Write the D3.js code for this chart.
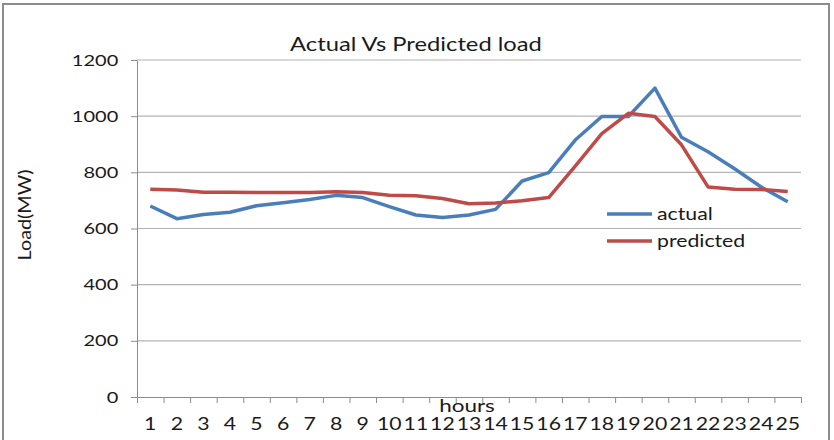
<!DOCTYPE html>
<html>
<head>
<meta charset="utf-8">
<script src="https://cdn.jsdelivr.net/npm/d3@7"></script>
<style>
  body { margin: 0; background: #fff; }
  text { font-family: Lato, "Open Sans", sans-serif; fill: #1a1a1a; }
</style>
</head>
<body>
<div id="chart"></div>
<script>
// hour categories and loads
const hours = ["1","2","3","4","5","6","7","8","9","10","11","12","13",
               "14","15","16","17","18","19","20","21","22","23","24","25"];
const actual = [680, 635, 650, 658, 681, 692, 703, 718, 710, 678, 648, 639, 648,
                668, 769, 799, 915, 999, 999, 1100, 925, 873, 813, 748, 695];
const predicted = [740, 737, 729, 729, 728, 728, 728, 731, 728, 718, 717, 707, 688,
                   691, 699, 710, 822, 938, 1010, 999, 898, 748, 740, 739, 732];
const yTicks = [0, 200, 400, 600, 800, 1000, 1200];
const seriesNames = ["actual", "predicted"];
const seriesColors = ["#4a7ebb", "#be4b48"];

// the picture is a bit stretched sideways, so text gets stretched too
const stretch = 1.25;

const W = 834, H = 440;
const margin = { top: 60, right: 33, bottom: 43, left: 137 };

const svg = d3.select("#chart")
    .append("svg")
    .attr("width", W)
    .attr("height", H);

// outer frame
svg.append("rect")
    .attr("x", 3)
    .attr("y", 4)
    .attr("width", 826)
    .attr("height", H)
    .attr("fill", "#fff")
    .attr("stroke", "#8c8c8c")
    .attr("stroke-width", 2);

const xScale = d3.scaleBand()
    .domain(hours)
    .range([margin.left, W - margin.right]);

const xEdge = d3.scaleLinear()
    .domain([0, hours.length])
    .range([margin.left, W - margin.right]);

const yScale = d3.scaleLinear()
    .domain([0, 1200])
    .range([H - margin.bottom, margin.top]);

// horizontal gridlines
svg.append("g")
    .selectAll("line")
    .data(yTicks.slice(1))
    .enter()
    .append("line")
    .attr("x1", margin.left)
    .attr("x2", W - margin.right)
    .attr("y1", d => yScale(d))
    .attr("y2", d => yScale(d))
    .attr("stroke", "#b4b4b4")
    .attr("stroke-width", 1.2);

// y axis
const yAxis = svg.append("g")
    .attr("transform", `translate(${margin.left},0)`)
    .call(d3.axisLeft(yScale).tickValues(yTicks).tickFormat(d3.format("d"))
        .tickSize(6).tickSizeOuter(0));
yAxis.select(".domain").attr("stroke", "#8c8c8c");
yAxis.selectAll(".tick line").attr("stroke", "#8c8c8c");
yAxis.selectAll(".tick text")
    .attr("x", -15)
    .attr("transform", `scale(${stretch},1)`)
    .style("font-size", "16px")
    .style("font-family", "Lato");

// x axis: ticks sit between the categories
const xTicks = svg.append("g")
    .attr("transform", `translate(0,${H - margin.bottom})`)
    .call(d3.axisBottom(xEdge).tickValues(d3.range(hours.length + 1)).tickSize(6).tickFormat(""));
xTicks.select(".domain").attr("stroke", "#8c8c8c");
xTicks.selectAll(".tick line").attr("stroke", "#8c8c8c");

const xLabels = svg.append("g")
    .attr("transform", `translate(0,${H - margin.bottom})`)
    .call(d3.axisBottom(xScale).tickSize(0));
xLabels.select(".domain").remove();
xLabels.selectAll(".tick text")
    .attr("y", 21)
    .attr("transform", `scale(${stretch},1)`)
    .style("font-size", "17px")
    .style("font-family", "Lato");

// series lines
const line = d3.line()
    .x((d, i) => xScale(hours[i]) + xScale.bandwidth() / 2)
    .y(d => yScale(d));

[actual, predicted].forEach((values, k) => {
    svg.append("path")
        .datum(values)
        .attr("fill", "none")
        .attr("stroke", seriesColors[k])
        .attr("stroke-width", 3.5)
        .attr("stroke-linejoin", "round")
        .attr("d", line);
});

// title
svg.append("text")
    .attr("transform", `translate(416,51) scale(${stretch},1)`)
    .attr("text-anchor", "middle")
    .style("font-size", "19px")
    .text("Actual Vs Predicted load");

// axis titles
svg.append("text")
    .attr("transform", `translate(${margin.left + 330},412) scale(${stretch},1)`)
    .attr("text-anchor", "middle")
    .style("font-size", "18px")
    .text("hours");

svg.append("text")
    .attr("transform", "translate(31,215) rotate(-90) scale(1.1,1)")
    .attr("text-anchor", "middle")
    .style("font-size", "18px")
    .text("Load(MW)");

// legend
const legend = svg.selectAll(".legend")
    .data(seriesNames)
    .enter()
    .append("g")
    .attr("class", "legend")
    .attr("transform", (d, i) => `translate(607,${214 + i * 27})`);

legend.append("line")
    .attr("x1", 0)
    .attr("x2", 45)
    .attr("stroke", (d, i) => seriesColors[i])
    .attr("stroke-width", 3.5);

legend.append("text")
    .attr("transform", `translate(50,6) scale(${stretch},1)`)
    .style("font-size", "17px")
    .text(d => d);
</script>
</body>
</html>
